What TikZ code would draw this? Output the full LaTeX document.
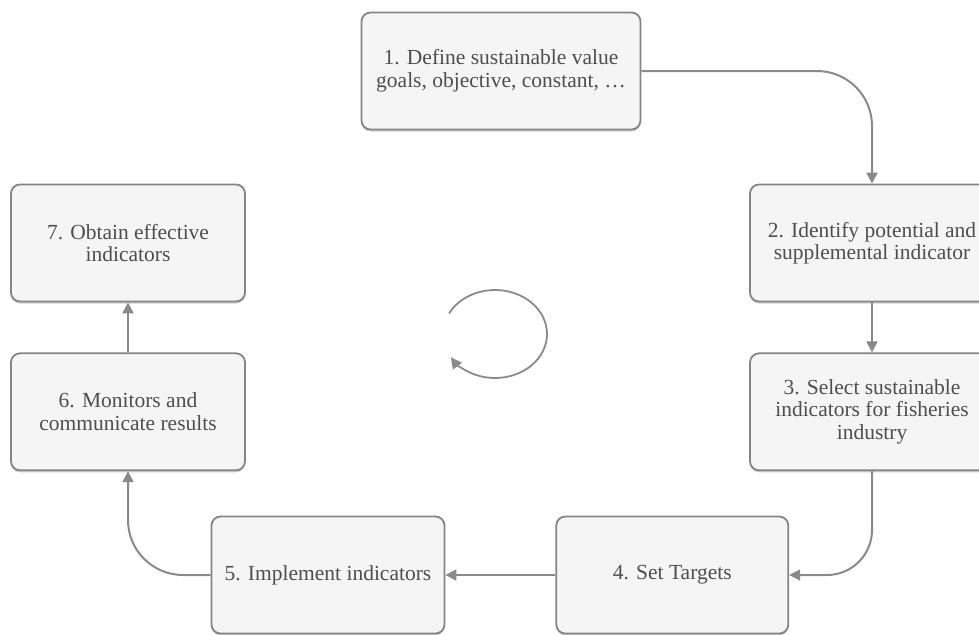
\documentclass[tikz,border=0pt]{standalone}
\usepackage{fontspec}
\setmainfont{Liberation Serif}
\usetikzlibrary{positioning,arrows.meta,shadows}

\definecolor{boxline}{HTML}{858585}
\definecolor{boxfill}{HTML}{F5F5F5}
\definecolor{arrowgray}{HTML}{8A8A8A}
\definecolor{textgray}{HTML}{4E4E4E}

\tikzset{
  stage/.style={rectangle, rounded corners=9pt, draw=boxline, line width=1.8pt,
    fill=boxfill, minimum width=233pt, minimum height=117pt, align=center,
    inner xsep=4pt, text=textgray, font=\fontsize{21.5}{22.5}\selectfont,
    drop shadow={shadow xshift=0pt, shadow yshift=-2pt, opacity=0.4}},
  flow/.style={draw=arrowgray, line width=2pt, -{Triangle[length=11pt,width=11pt]}}
}

\begin{document}
\begin{tikzpicture}[x=1pt, y=-1pt]
  \useasboundingbox (0,0) rectangle (979,634);

  % Define nodes
  \node[stage, minimum width=279pt] (n1) at (501,71) {1. Define sustainable value\\goals, objective, constant, \dots};
  \node[stage, minimum width=244pt] (n2) at (872,243) {2. Identify potential and\\supplemental indicator};
  \node[stage, minimum width=244pt, below=50pt of n2] (n3) {3. Select sustainable\\indicators for fisheries\\industry};
  \node[stage] (n5) at (328,575) {5. Implement indicators};
  \node[stage, right=110pt of n5, minimum width=232pt] (n4) {4. Set Targets};
  \node[stage, minimum width=234pt] (n7) at (128,243) {7. Obtain effective\\indicators};
  \node[stage, minimum width=234pt, below=50pt of n7] (n6) {6. Monitors and\\communicate results};

  % Connect the nodes
  \draw[flow, rounded corners=55pt] (n1.east) -| (n2.north);
  \draw[flow] (n2.south) -- (n3.north);
  \draw[flow, rounded corners=45pt] (n3.south) |- (n4.east);
  \draw[flow] (n4.west) -- (n5.east);
  \draw[flow, rounded corners=55pt] (n5.west) -| (n6.south);
  \draw[flow] (n6.north) -- (n7.south);

  % Cycle mark
  \coordinate (cyc) at (495,334);
  \draw[flow, line width=1.8pt] ([shift={(208:52 and 44)}]cyc) arc[start angle=208, end angle=508, x radius=52, y radius=44];

\end{tikzpicture}
\end{document}
